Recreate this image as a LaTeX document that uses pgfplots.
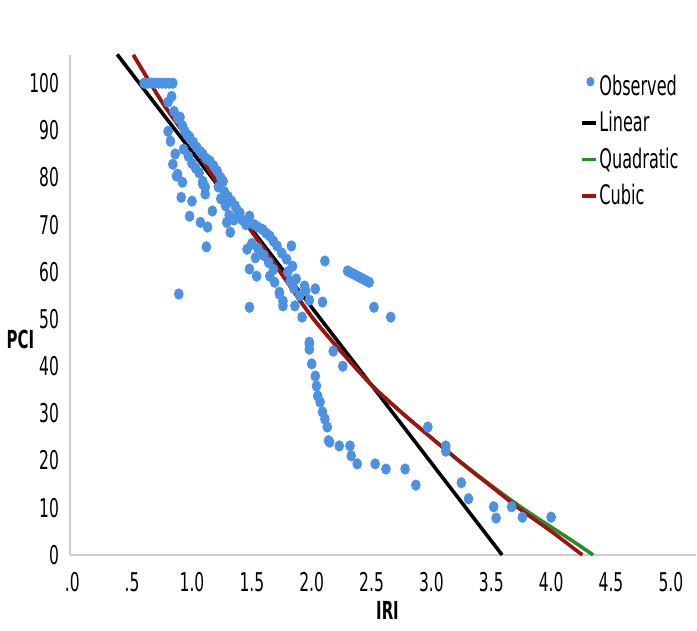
\documentclass[border=0pt]{standalone}
\usepackage{fontspec}
\setmainfont{DejaVu Sans}[FakeStretch=0.6]
\usepackage{pgfplots}
\pgfplotsset{compat=1.18}

\definecolor{obsblue}{RGB}{77,145,226}
\definecolor{cubred}{RGB}{160,18,18}
\definecolor{quadgreen}{RGB}{40,140,40}
\definecolor{axgray}{RGB}{205,205,205}

\begin{document}
\begin{tikzpicture}
\begin{axis}[
    scale only axis,
    width=313.5bp, height=250.5bp,
    xmin=-0.017, xmax=5.21, ymin=0, ymax=106,
    axis lines=left,
    axis line style={draw=axgray, line width=1pt, -},
    tick style={draw=none},
    xtick={0,0.5,1,1.5,2,2.5,3,3.5,4,4.5,5},
    xticklabels={.0,.5,1.0,1.5,2.0,2.5,3.0,3.5,4.0,4.5,5.0},
    ytick={0,10,20,30,40,50,60,70,80,90,100},
    /pgf/number format/assume math mode=true,
    tick label style={font=\fontsize{13}{14}\selectfont},
    xticklabel style={yshift=-3bp},
    xlabel={\textbf{IRI}}, ylabel={\textbf{PCI}},
    label style={font=\fontsize{12.5}{14}\selectfont},
    xlabel style={at={(axis description cs:0.507,0)}, anchor=center, yshift=-28bp},
    ylabel style={at={(axis description cs:0,0.431)}, rotate=-90, anchor=center, xshift=-25bp},
    legend style={at={(0.815,0.963)}, anchor=north west, draw=none, fill=none,
        font=\fontsize{13.5}{15}\selectfont, row sep=5.3bp, inner sep=0pt,
        nodes={inner sep=0.6bp},
        /tikz/every even column/.append style={column sep=0bp}},
    legend cell align=left,
    clip=false,
]
\addplot[only marks, mark=*, mark size=2.6bp, color=obsblue,
    mark options={draw=none, fill=obsblue, xscale=0.85},
    legend image code/.code={\fill[obsblue] (4bp,2.5bp) ellipse (1.8bp and 2.2bp);}] coordinates {
    (0.60,100) (0.63,100) (0.66,100) (0.69,100) (0.72,100) (0.75,100) (0.78,100) (0.81,100) (0.84,100)
    (0.83,97.2) (0.80,96) (0.85,94) (0.88,92.5) (0.90,92.8) (0.92,91) (0.94,89.8) (0.96,89)
    (0.98,88.6) (1.01,87.5) (1.04,86.4) (1.07,85.5) (1.09,85) (1.12,84) (1.15,83.5) (1.18,82.5)
    (1.21,81.4) (1.24,80) (1.26,79.2) (0.80,89.8) (0.82,87.7) (0.86,85) (0.84,82.8) (0.88,80.7)
    (0.87,80.3) (0.92,79) (0.91,75.8) (1.00,75) (0.98,71.8) (1.07,70.5) (1.13,69.5) (1.12,65.3)
    (1.17,72.9) (1.09,78.6) (1.11,76.5) (0.89,55.3) (1.09,79.2) (1.11,78) (0.93,86) (0.97,84.5)
    (1.00,83) (1.03,82) (1.06,81)
    (1.27,77) (1.30,76) (1.33,75) (1.36,74) (1.38,73) (1.40,72.5) (1.42,71) (1.45,70)
    (1.28,74) (1.31,72) (1.35,71) (1.24,75.5) (1.22,78) (1.32,68.4) (1.29,70.5) (1.46,64.8)
    (1.48,60.6) (1.54,59.1) (1.65,59.1) (1.69,57.8) (1.73,55.7) (1.76,53.8) (1.48,71.8) (1.52,70)
    (1.55,69.5) (1.59,69) (1.62,68.2) (1.65,67.6) (1.68,66.5) (1.71,65.5) (1.75,64) (1.79,62.7)
    (1.84,61.2) (1.87,58.5) (1.50,66) (1.53,63) (1.55,65) (1.57,64) (1.60,63.5) (1.64,62)
    (1.68,60.5) (1.80,60) (1.82,58) (1.85,56.5) (1.90,55) (1.95,56) (1.98,54) (2.03,56.4)
    (1.94,57) (1.83,65.5) (1.48,52.5) (1.76,52.8) (1.86,52.8) (1.73,55.3) (1.92,50.4) (2.09,53.6)
    (2.11,62.3)
    (2.30,60.2) (2.33,59.8) (2.36,59.4) (2.39,59) (2.42,58.6) (2.45,58.2) (2.48,57.8)
    (2.52,52.5) (2.66,50.4)
    (1.98,45.1) (1.98,43.6) (1.98,44.7) (2.18,43.2) (2.26,40) (2.00,40.5) (2.03,37.9) (2.04,35.8)
    (2.05,33.7) (2.07,32.4) (2.09,30.3) (2.11,28.8) (2.13,27.1) (2.14,24.2) (2.15,23.9)
    (2.23,23.1) (2.32,23.1) (2.33,21) (2.38,19.3) (2.53,19.3) (2.62,18.2) (2.78,18.2)
    (2.87,14.8) (2.97,27.1) (3.12,23.1) (3.12,22) (3.25,15.3) (3.31,11.9) (3.52,10.2)
    (3.54,7.8) (3.67,10.2) (3.76,8) (4.00,8)
};
\addlegendentry{Observed}
\addplot[black, line width=1.8bp, legend image code/.code={\draw[black, line width=1.8bp] (0,0) -- (7bp,0);}]
    coordinates {(0.375,106.1) (3.59,0)};
\addlegendentry{Linear}
\addplot[quadgreen, line width=1.8bp, smooth, legend image code/.code={\draw[quadgreen, line width=1.8bp] (0,0) -- (7bp,0);}]
    coordinates {(0.51,106) (0.75,96) (1.0,87) (1.25,77.5) (1.5,68.5) (1.75,59.5) (2.0,50.5)
    (2.25,43) (2.5,36) (2.75,30.2) (3.0,24.8) (3.25,19.6) (3.5,14.7) (3.75,10.1) (4.0,5.9) (4.2,2.6) (4.35,0)};
\addlegendentry{Quadratic}
\addplot[cubred, line width=1.8bp, smooth, legend image code/.code={\draw[cubred, line width=1.8bp] (0,0) -- (7bp,0);}]
    coordinates {(0.51,106) (0.75,96) (1.0,87) (1.25,77.5) (1.5,68.5) (1.75,59.5) (2.0,50.5)
    (2.25,43) (2.5,36) (2.75,30.2) (3.0,24.8) (3.25,19.5) (3.5,14.5) (3.75,9.5) (4.0,5) (4.26,0)};
\addlegendentry{Cubic}
\end{axis}
\path[use as bounding box] (current axis.south west) ++(-35bp,-38bp) rectangle ++(348.5bp,316bp);
\end{tikzpicture}
\end{document}
